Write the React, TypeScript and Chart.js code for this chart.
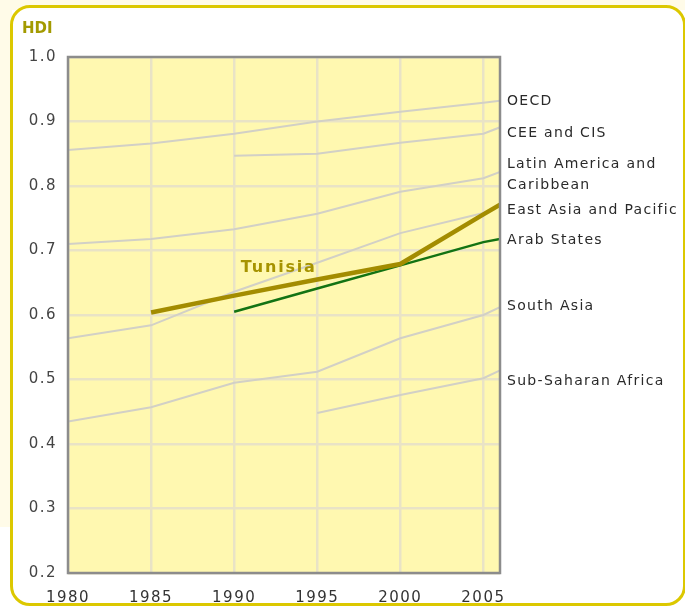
import React, { useEffect, useRef } from "react";
import { Chart, registerables } from "chart.js";

Chart.register(...registerables);

// ---- Data ----
const xTicks = [1980, 1985, 1990, 1995, 2000, 2005];
const yTicks = [0.2, 0.3, 0.4, 0.5, 0.6, 0.7, 0.8, 0.9, 1.0];

const fullYears = [1980, 1985, 1990, 1995, 2000, 2005, 2006];
const oecd = [0.856, 0.866, 0.881, 0.9, 0.915, 0.929, 0.932];
const latam = [0.71, 0.718, 0.733, 0.757, 0.791, 0.812, 0.822];
const eastAsia = [0.564, 0.584, 0.636, 0.681, 0.727, 0.758, 0.77];
const southAsia = [0.435, 0.457, 0.495, 0.512, 0.564, 0.6, 0.612];

const ceeYears = [1990, 1995, 2000, 2005, 2006];
const cee = [0.847, 0.85, 0.867, 0.881, 0.891];

const ssaYears = [1995, 2000, 2005, 2006];
const ssa = [0.448, 0.476, 0.502, 0.514];

const arabYears = [1990, 1995, 2000, 2005, 2006];
const arab = [0.605, 0.641, 0.677, 0.713, 0.718];

const tunisiaYears = [1985, 1990, 1995, 2000, 2005, 2006];
const tunisia = [0.604, 0.63, 0.655, 0.679, 0.756, 0.771];

// Right-side region labels, anchored at HDI values
const regionLabels = ["OECD", "CEE and CIS", "Latin America and", "Caribbean", "East Asia and Pacific", "Arab States", "South Asia", "Sub-Saharan Africa"];
const regionLabelValues = [0.932, 0.882, 0.834, 0.801, 0.763, 0.716, 0.614, 0.497];

const tunisiaLabel = "Tunisia";
const tunisiaLabelAt = { x: 1990.4, y: 0.667 };

const pts = (xs: number[], ys: number[]) => xs.map((x, i) => ({ x, y: ys[i] }));

const GRAY = "#d2d0c6";
const FONT = "'DejaVu Sans', Verdana, sans-serif";

export default function App() {
  const ref = useRef<HTMLCanvasElement>(null);

  useEffect(() => {
    const canvas = ref.current;
    if (!canvas) return;

    const overlay = {
      id: "overlay",
      beforeDraw(chart: any) {
        const { ctx, chartArea: a } = chart;
        ctx.save();
        ctx.fillStyle = "#fff8b0";
        ctx.fillRect(a.left, a.top, a.right - a.left, a.bottom - a.top);
        ctx.restore();
        // letter spacing for the tick labels drawn next
        (ctx as any).letterSpacing = "1.5px";
      },
      afterDraw(chart: any) {
        const { ctx, chartArea: a, scales } = chart;
        const ys = scales.y;
        const xs = scales.x;
        ctx.save();
        // frame
        ctx.strokeStyle = "#8c8c8c";
        ctx.lineWidth = 2.5;
        ctx.strokeRect(a.left, a.top, a.right - a.left, a.bottom - a.top);

        // region labels
        ctx.fillStyle = "#2a2a2a";
        ctx.font = `14px ${FONT}`;
        (ctx as any).letterSpacing = "1.3px";
        ctx.textAlign = "left";
        ctx.textBaseline = "middle";
        regionLabels.forEach((t, i) => {
          ctx.fillText(t, a.right + 7, ys.getPixelForValue(regionLabelValues[i]));
        });

        // Tunisia label
        ctx.fillStyle = "#a69300";
        ctx.font = `bold 16px ${FONT}`;
        (ctx as any).letterSpacing = "1.8px";
        ctx.textBaseline = "alphabetic";
        ctx.fillText(tunisiaLabel, xs.getPixelForValue(tunisiaLabelAt.x), ys.getPixelForValue(tunisiaLabelAt.y));

        // HDI axis title
        ctx.fillStyle = "#a39a00";
        ctx.font = `bold 15px ${FONT}`;
        (ctx as any).letterSpacing = "0px";
        ctx.textBaseline = "middle";
        ctx.fillText("HDI", 22, 29);
        ctx.restore();
      },
    };

    const gray = (label: string, data: any[]) => ({
      label,
      data,
      borderColor: GRAY,
      borderWidth: 2,
      pointRadius: 0,
      tension: 0,
      fill: false,
    });

    const chart = new Chart(canvas, {
      type: "line",
      data: {
        datasets: [
          {
            label: "Tunisia",
            data: pts(tunisiaYears, tunisia),
            borderColor: "#a38c00",
            borderWidth: 4.5,
            pointRadius: 0,
            tension: 0,
            fill: false,
          },
          {
            label: "Arab States",
            data: pts(arabYears, arab),
            borderColor: "#137313",
            borderWidth: 2.5,
            pointRadius: 0,
            tension: 0,
            fill: false,
          },
          gray("OECD", pts(fullYears, oecd)),
          gray("CEE and CIS", pts(ceeYears, cee)),
          gray("Latin America and Caribbean", pts(fullYears, latam)),
          gray("East Asia and Pacific", pts(fullYears, eastAsia)),
          gray("South Asia", pts(fullYears, southAsia)),
          gray("Sub-Saharan Africa", pts(ssaYears, ssa)),
        ],
      },
      options: {
        animation: false,
        responsive: false,
        devicePixelRatio: 1,
        events: [],
        layout: { padding: { left: 0, right: 185, top: 57, bottom: 0 } },
        plugins: { legend: { display: false }, tooltip: { enabled: false }, title: { display: false } },
        scales: {
          x: {
            type: "linear",
            min: 1980,
            max: 2006,
            afterBuildTicks: (s: any) => {
              s.ticks = xTicks.map((v) => ({ value: v }));
            },
            afterFit: (s: any) => {
              s.height = 38;
            },
            grid: { color: "#e9e3c6", lineWidth: 2.5, drawTicks: false },
            border: { display: false },
            ticks: {
              color: "#333",
              font: { family: FONT, size: 15 },
              padding: 16,
              maxRotation: 0,
              autoSkip: false,
              callback: (v: any) => String(v),
            },
          },
          y: {
            type: "linear",
            min: 0.2,
            max: 1.0,
            afterBuildTicks: (s: any) => {
              s.ticks = yTicks.map((v) => ({ value: v }));
            },
            afterFit: (s: any) => {
              s.width = 68;
            },
            grid: { color: "#e9e3c6", lineWidth: 2.5, drawTicks: false },
            border: { display: false },
            ticks: {
              color: "#444",
              font: { family: FONT, size: 15 },
              padding: 11,
              autoSkip: false,
              callback: (v: any) => Number(v).toFixed(1),
            },
          },
        },
      },
      plugins: [overlay],
    } as any);

    return () => chart.destroy();
  }, []);

  return (
    <div style={{ position: "fixed", left: 0, top: 0, width: 685, height: 611, background: "#ffffff", overflow: "hidden" }}>
      <div style={{ position: "absolute", left: 0, top: 0, width: 685, height: 10, background: "#fffbe8" }} />
      <div style={{ position: "absolute", left: 0, top: 0, width: 12, height: 527, background: "#fffbe8" }} />
      <div
        style={{
          position: "absolute",
          left: 10,
          top: 5,
          width: 676,
          height: 601,
          boxSizing: "border-box",
          border: "3px solid #dcc800",
          borderRadius: 20,
          background: "#ffffff",
        }}
      />
      <canvas ref={ref} width={685} height={611} style={{ position: "absolute", left: 0, top: 0, width: 685, height: 611 }} />
    </div>
  );
}
